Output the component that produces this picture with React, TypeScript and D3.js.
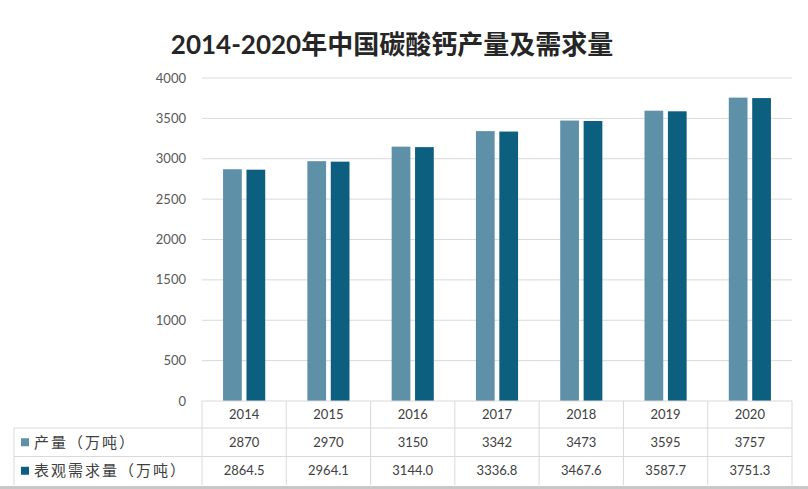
import React from "react";
import * as d3 from "d3";

const years = ["2014", "2015", "2016", "2017", "2018", "2019", "2020"];
const production = [2870, 2970, 3150, 3342, 3473, 3595, 3757];
const demand = [2864.5, 2964.1, 3144.0, 3336.8, 3467.6, 3587.7, 3751.3];
const productionLabels = ["2870", "2970", "3150", "3342", "3473", "3595", "3757"];
const demandLabels = ["2864.5", "2964.1", "3144.0", "3336.8", "3467.6", "3587.7", "3751.3"];
const seriesNames = ["产量（万吨）", "表观需求量（万吨）"];
const yTicks = [0, 500, 1000, 1500, 2000, 2500, 3000, 3500, 4000];
const title = "2014-2020年中国碳酸钙产量及需求量";

const W = 808;
const H = 489;
const colors = ["#5e90a8", "#0c5f7f"];
const FONT = "Lato, 'Noto Sans CJK SC', sans-serif";

export default function App() {
  const left = 202;
  const right = 792;
  const y0 = 401;
  const yTop = 78;
  const x = d3.scaleBand<string>().domain(years).range([left, right]).paddingInner(0).paddingOuter(0);
  const y = d3.scaleLinear().domain([0, 4000]).range([y0, yTop]);
  const bw = x.bandwidth();
  const groupW = bw * 0.5;
  const inner = d3.scaleBand<string>().domain(["a", "b"]).range([0, groupW]).paddingInner(0.2);
  const series = [production, demand];
  const rowTops = [y0, 428, 456.5];
  const rowBottom = 485;
  const tableLeft = 14;
  const rowLabels = [productionLabels, demandLabels];

  return (
    <svg width={W} height={H} style={{ position: "absolute", left: 0, top: 0, background: "#fff" }}>
      <rect x={0} y={0} width={W} height={H} fill="#fff" />
      <text x={392} y={54} textAnchor="middle" fontFamily={FONT} fontWeight="bold" fontSize={26} fill="#262626">
        {title}
      </text>
      {yTicks.map((t) => (
        <g key={t}>
          {t > 0 && <line x1={left} x2={right} y1={y(t)} y2={y(t)} stroke="#d9d9d9" strokeWidth={1} />}
          <text x={186} y={y(t)} dy="0.35em" textAnchor="end" fontFamily={FONT} fontSize={13} fill="#595959">
            {t}
          </text>
        </g>
      ))}
      {series.map((vals, si) =>
        years.map((yr, i) => {
          const bx = (x(yr) as number) + (bw - groupW) / 2 + (inner(si === 0 ? "a" : "b") as number);
          return (
            <rect
              key={`${si}-${yr}`}
              x={bx}
              y={y(vals[i])}
              width={inner.bandwidth()}
              height={y0 - y(vals[i])}
              fill={colors[si]}
            />
          );
        })
      )}
      {/* table */}
      <line x1={left} x2={right} y1={y0} y2={y0} stroke="#d9d9d9" />
      <line x1={tableLeft} x2={right} y1={rowTops[1]} y2={rowTops[1]} stroke="#d9d9d9" />
      <line x1={tableLeft} x2={right} y1={rowTops[2]} y2={rowTops[2]} stroke="#d9d9d9" />
      <line x1={tableLeft} x2={tableLeft} y1={rowTops[1]} y2={rowBottom} stroke="#d9d9d9" />
      {[...years.map((yr) => x(yr) as number), right].map((vx, i) => (
        <line key={i} x1={vx} x2={vx} y1={y0} y2={rowBottom} stroke="#d9d9d9" />
      ))}
      {years.map((yr, i) => (
        <g key={yr}>
          <text x={(x(yr) as number) + bw / 2} y={(rowTops[0] + rowTops[1]) / 2} dy="0.35em" textAnchor="middle" fontFamily={FONT} fontSize={13} fill="#404040">
            {yr}
          </text>
          {rowLabels.map((lbls, ri) => (
            <text
              key={ri}
              x={(x(yr) as number) + bw / 2}
              y={(rowTops[ri + 1] + (ri === 0 ? rowTops[2] : rowBottom)) / 2}
              dy="0.35em"
              textAnchor="middle"
              fontFamily={FONT}
              fontSize={13}
              fill="#404040"
            >
              {lbls[i]}
            </text>
          ))}
        </g>
      ))}
      {seriesNames.map((name, ri) => {
        const cy = (rowTops[ri + 1] + (ri === 0 ? rowTops[2] : rowBottom)) / 2;
        return (
          <g key={name}>
            <rect x={21} y={cy - 4} width={8} height={8} fill={colors[ri]} />
            <text x={34} y={cy} dy="0.35em" fontFamily={FONT} fontSize={15} letterSpacing={2} fill="#404040">
              {name}
            </text>
          </g>
        );
      })}
      <rect x={0} y={486} width={W} height={3} fill="#c8c8c8" />
    </svg>
  );
}
